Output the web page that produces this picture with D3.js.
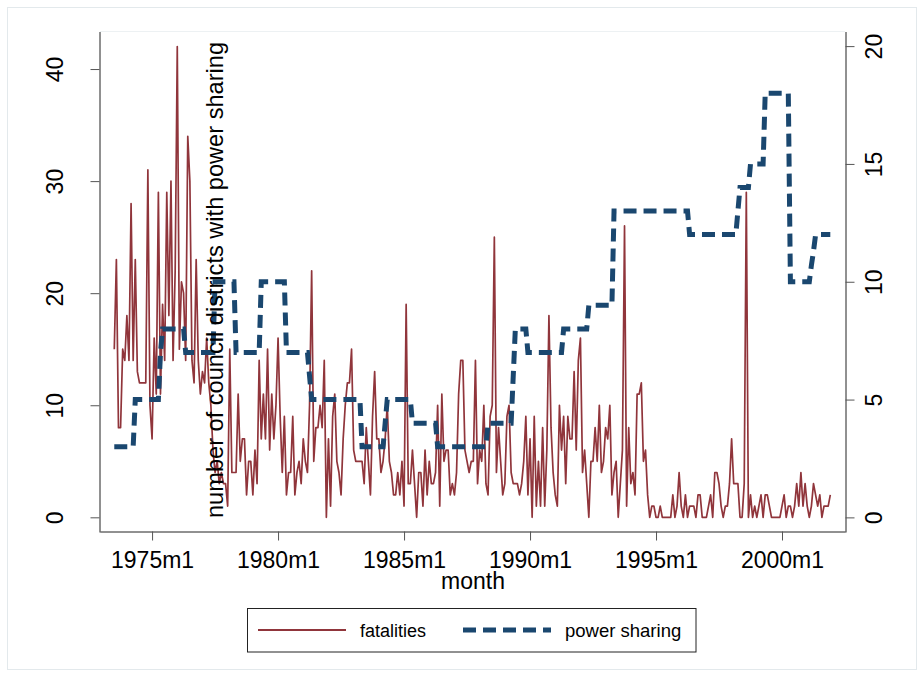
<!DOCTYPE html>
<html>
<head>
<meta charset="utf-8">
<script src="https://cdn.jsdelivr.net/npm/d3@7"></script>
<style>
  body { margin: 0; background: #fff; }
  svg { display: block; font-family: "Liberation Sans", Arial, Helvetica, sans-serif; }
</style>
</head>
<body>
<svg width="924" height="677"></svg>
<script>
// Select the SVG and set up dimensions
const svg = d3.select('svg');
const width = +svg.attr('width');
const height = +svg.attr('height');

// Edges of the plot box
const plot = { left: 100, right: 845, top: 31.5, bottom: 532 };

// First month of the series, Stata %tm (1960m1 = 0) -> 1973m7
const startMonth = 162;

// Monthly fatalities, one row per year
const fatalities = [
    15, 23, 8, 8, 15, 14,                      // 1973m7-m12
    18, 14, 28, 14, 23, 13, 12, 12, 12, 12, 31, 10, // 1974
    7, 16, 11, 29, 11, 19, 14, 29, 18, 30, 14, 22,  // 1975
    42, 15, 21, 20, 14, 34, 30, 14, 12, 23, 14, 11, // 1976
    13, 12, 16, 12, 10, 6, 4, 5, 3, 4, 3, 3,        // 1977
    1, 15, 4, 4, 4, 11, 5, 7, 7, 2, 5, 5,           // 1978
    2, 6, 3, 14, 7, 11, 7, 15, 6, 11, 7, 10,        // 1979
    16, 9, 4, 9, 2, 4, 4, 9, 2, 4, 5, 3,            // 1980
    7, 5, 4, 10, 22, 5, 8, 8, 10, 8, 14, 0,         // 1981
    7, 1, 9, 11, 5, 4, 2, 7, 10, 12, 12, 15,        // 1982
    6, 5, 5, 5, 5, 3, 8, 5, 2, 9, 13, 7,            // 1983
    7, 4, 5, 7, 10, 5, 4, 2, 2, 4, 2, 5,            // 1984
    1, 19, 3, 3, 6, 3, 0, 4, 4, 1, 6, 2,            // 1985
    5, 3, 3, 4, 10, 1, 11, 5, 6, 6, 2, 3,           // 1986
    2, 4, 11, 14, 14, 6, 5, 4, 5, 5, 14, 3,         // 1987
    6, 5, 10, 3, 2, 9, 10, 25, 4, 8, 5, 2,          // 1988
    3, 9, 10, 4, 3, 3, 3, 2, 3, 5, 9, 2,            // 1989
    7, 0, 9, 1, 5, 1, 8, 1, 6, 18, 8, 4,            // 1990
    2, 1, 10, 6, 9, 3, 9, 7, 7, 13, 6, 14,          // 1991
    16, 4, 6, 3, 0, 5, 5, 8, 5, 10, 4, 5,           // 1992
    8, 7, 10, 2, 4, 5, 0, 3, 6, 26, 1, 8,           // 1993
    3, 4, 2, 11, 11, 12, 5, 6, 2, 0, 1, 1,          // 1994
    0, 0, 1, 0, 0, 0, 0, 0, 2, 0, 1, 4,             // 1995
    1, 0, 2, 0, 1, 1, 1, 0, 2, 2, 0, 0,             // 1996
    0, 1, 2, 0, 4, 4, 3, 1, 0, 1, 1, 3,             // 1997
    7, 3, 3, 3, 0, 0, 3, 29, 0, 2, 0, 1,            // 1998
    0, 1, 2, 0, 2, 2, 1, 0, 0, 0, 0, 0,             // 1999
    1, 2, 0, 1, 1, 0, 1, 3, 1, 4, 1, 3,             // 2000
    1, 0, 1, 3, 2, 1, 2, 0, 1, 1, 1, 2              // 2001
];

// Power sharing: month offset (from 1973m7) where a new level starts, and the level
const shareStart = [0, 10, 22, 23, 34, 48, 58, 70, 82, 93, 94, 118, 129, 130, 142, 154,
    178, 190, 191, 197, 214, 226, 238, 274, 297, 298, 303, 310, 322, 332, 333, 334];
const shareLevel = [3, 5, 7, 8, 7, 10, 7, 10, 7, 6, 5, 3, 4, 5, 4, 3,
    4, 6, 8, 7, 8, 9, 13, 12, 13, 14, 15, 18, 10, 10.7, 11.3, 12];

// Tick values and labels
const xTicks = [180, 240, 300, 360, 420, 480];
const xTickLabels = ['1975m1', '1980m1', '1985m1', '1990m1', '1995m1', '2000m1'];
const leftTicks = [0, 10, 20, 30, 40];
const rightTicks = [0, 5, 10, 15, 20];

// Expand the step series to one value per month
const sharing = fatalities.map((_, i) => {
    let v = shareLevel[0];
    shareStart.forEach((s, k) => { if (i >= s) v = shareLevel[k]; });
    return v;
});

const data = fatalities.map((f, i) => ({
    month: startMonth + i,
    fatalities: f,
    sharing: sharing[i]
}));

// Scales
const xScale = d3.scaleLinear().domain([155.2, 510]).range([plot.left, plot.right]);
const yLeft = d3.scaleLinear().domain([-1.31, 43.35]).range([plot.bottom, plot.top]);
const yRight = d3.scaleLinear().domain([-0.62, 20.62]).range([plot.bottom, plot.top]);

// Background and faint outer frame
svg.append('rect').attr('width', width).attr('height', height).attr('fill', '#fff');
svg.append('rect')
    .attr('x', 7.5).attr('y', 7.5)
    .attr('width', 909).attr('height', 662)
    .attr('fill', 'none')
    .attr('stroke', '#e3e9ec');
// faint top edge of plot region
svg.append('line')
    .attr('x1', plot.left).attr('x2', plot.right)
    .attr('y1', plot.top).attr('y2', plot.top)
    .attr('stroke', '#edf1f3');

function styleAxis(g) {
    g.select('.domain').attr('stroke', '#222');
    g.selectAll('.tick line').attr('stroke', '#555');
    g.selectAll('.tick text')
        .attr('fill', '#000')
        .attr('font-size', 23)
        .attr('font-family', '"Liberation Sans", Arial, sans-serif');
}

// Bottom axis
const xAxisGroup = svg.append('g')
    .attr('transform', `translate(0,${plot.bottom - 0.5})`)
    .call(d3.axisBottom(xScale)
        .tickValues(xTicks)
        .tickSize(9)
        .tickSizeOuter(0)
        .tickFormat((d, i) => xTickLabels[i]));
styleAxis(xAxisGroup);
xAxisGroup.selectAll('.tick text').attr('dy', null).attr('y', 36);

// Left axis (fatalities)
const leftGroup = svg.append('g')
    .attr('transform', `translate(${plot.left - 0.5},0)`)
    .call(d3.axisLeft(yLeft).tickValues(leftTicks).tickSize(9).tickSizeOuter(0));
styleAxis(leftGroup);
leftGroup.selectAll('.tick text')
    .attr('x', null).attr('dy', null)
    .attr('text-anchor', 'middle')
    .attr('transform', 'translate(-37,0) rotate(-90)');

// Right axis (power sharing)
const rightGroup = svg.append('g')
    .attr('transform', `translate(${plot.right + 0.5},0)`)
    .call(d3.axisRight(yRight).tickValues(rightTicks).tickSize(9).tickSizeOuter(0));
styleAxis(rightGroup);
rightGroup.selectAll('.tick text')
    .attr('x', null).attr('dy', null)
    .attr('text-anchor', 'middle')
    .attr('transform', 'translate(36,0) rotate(-90)');

// Lines
const fatalLine = d3.line()
    .x(d => xScale(d.month))
    .y(d => yLeft(d.fatalities));
const shareLine = d3.line()
    .x(d => xScale(d.month))
    .y(d => yRight(d.sharing));

svg.append('path')
    .datum(data)
    .attr('d', fatalLine)
    .attr('fill', 'none')
    .attr('stroke', '#90353b')
    .attr('stroke-width', 1.7)
    .attr('stroke-linejoin', 'round');

svg.append('path')
    .datum(data)
    .attr('d', shareLine)
    .attr('fill', 'none')
    .attr('stroke', '#1a476f')
    .attr('stroke-width', 5)
    .attr('stroke-dasharray', '13,7');

// Axis titles
svg.append('text')
    .attr('x', 473)
    .attr('y', 589)
    .attr('text-anchor', 'middle')
    .attr('font-size', 23)
    .text('month');

svg.append('text')
    .attr('transform', 'translate(223,518) rotate(-90)')
    .attr('text-anchor', 'start')
    .attr('font-size', 23.6)
    .text('number of council districts with power sharing');

// Legend
const legend = svg.append('g');
legend.append('rect')
    .attr('x', 247.5).attr('y', 608.5)
    .attr('width', 448.5).attr('height', 43.5)
    .attr('fill', '#fff')
    .attr('stroke', '#222');
legend.append('line')
    .attr('x1', 258).attr('x2', 346)
    .attr('y1', 630).attr('y2', 630)
    .attr('stroke', '#90353b')
    .attr('stroke-width', 1.8);
legend.append('text')
    .attr('x', 360).attr('y', 637)
    .attr('font-size', 18)
    .text('fatalities');
legend.append('line')
    .attr('x1', 463).attr('x2', 551)
    .attr('y1', 630).attr('y2', 630)
    .attr('stroke', '#1a476f')
    .attr('stroke-width', 5)
    .attr('stroke-dasharray', '13,7');
legend.append('text')
    .attr('x', 565).attr('y', 637)
    .attr('font-size', 18.5)
    .text('power sharing');
</script>
</body>
</html>
